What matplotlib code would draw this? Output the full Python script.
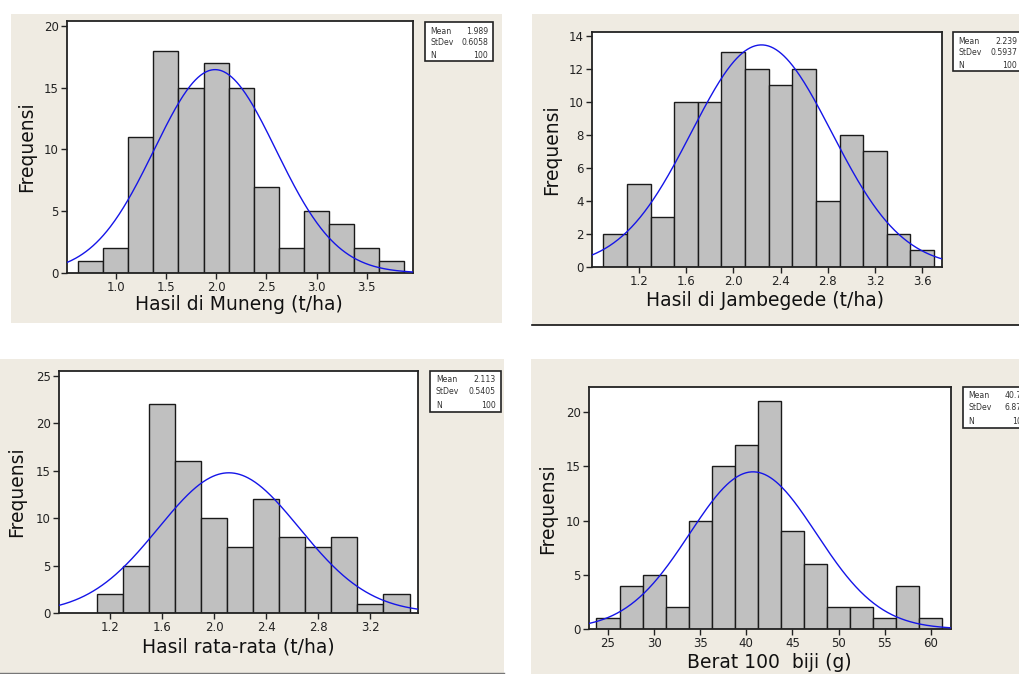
import matplotlib
matplotlib.use("Agg")
import matplotlib.pyplot as plt
from matplotlib.patches import Rectangle
import numpy as np

W, H = 1020, 674

# --- data ---
muneng_mids = [0.75, 1.00, 1.25, 1.50, 1.75, 2.00, 2.25, 2.50, 2.75, 3.00, 3.25, 3.50, 3.75]
muneng_counts = [1, 2, 11, 18, 15, 17, 15, 7, 2, 5, 4, 2, 1]
muneng_stats = ("1.989", "0.6058", "100")

jamb_mids = [1.0, 1.2, 1.4, 1.6, 1.8, 2.0, 2.2, 2.4, 2.6, 2.8, 3.0, 3.2, 3.4, 3.6]
jamb_counts = [2, 5, 3, 10, 10, 13, 12, 11, 12, 4, 8, 7, 2, 1]
jamb_stats = ("2.239", "0.5937", "100")

rata_mids = [1.2, 1.4, 1.6, 1.8, 2.0, 2.2, 2.4, 2.6, 2.8, 3.0, 3.2, 3.4]
rata_counts = [2, 5, 22, 16, 10, 7, 12, 8, 7, 8, 1, 2]
rata_stats = ("2.113", "0.5405", "100")

berat_mids = [25.0, 27.5, 30.0, 32.5, 35.0, 37.5, 40.0, 42.5, 45.0, 47.5, 50.0, 52.5, 55.0, 57.5, 60.0]
berat_counts = [1, 4, 5, 2, 10, 15, 17, 21, 9, 6, 2, 2, 1, 4, 1]
berat_stats = ("40.73", "6.877", "100")

BEIGE = "#EFEBE2"
BAR = "#C0C0C0"
EDGE = "#1a1a1a"
CURVE = "#1515E8"

fig = plt.figure(figsize=(W / 100, H / 100), dpi=100)
fig.patch.set_facecolor("white")


def rect_px(x0, y0, x1, y1, **kw):
    fig.add_artist(Rectangle((x0 / W, 1 - y1 / H), (x1 - x0) / W, (y1 - y0) / H,
                             transform=fig.transFigure, zorder=0, **kw))


def axes_px(x0, y0, x1, y1):
    return fig.add_axes([x0 / W, 1 - y1 / H, (x1 - x0) / W, (y1 - y0) / H])


def text_px(x, y, s, **kw):
    fig.text(x / W, 1 - y / H, s, **kw)


def histo(box, mids, counts, stats, xlim, ylim, xticks, yticks, fmt):
    ax = axes_px(*box)
    ax.set_facecolor("white")
    bw = mids[1] - mids[0]
    ax.bar(mids, counts, width=bw, color=BAR, edgecolor=EDGE, linewidth=1.0, zorder=2)
    mean, sd, n = float(stats[0]), float(stats[1]), float(stats[2])
    xs = np.linspace(xlim[0], xlim[1], 400)
    ys = n * bw * np.exp(-0.5 * ((xs - mean) / sd) ** 2) / (sd * np.sqrt(2 * np.pi))
    ax.plot(xs, ys, color=CURVE, lw=1.0, zorder=3)
    ax.set_xlim(*xlim)
    ax.set_ylim(*ylim)
    ax.set_xticks(xticks)
    ax.set_xticklabels([fmt.format(t) for t in xticks])
    ax.set_yticks(yticks)
    ax.tick_params(direction="out", length=4, width=1, labelsize=8.5, pad=2,
                   colors="#222222")
    for sp in ax.spines.values():
        sp.set_linewidth(1.3)
        sp.set_color("#222222")
    return ax


def statbox(x0, y0, x1, y1, stats, rows):
    rect_px(x0, y0, x1, y1, facecolor="white", edgecolor="#222222", linewidth=1.2)
    labels = ["Mean", "StDev", "N"]
    for lab, val, ry in zip(labels, stats, rows):
        text_px(x0 + 5.5, y0 + ry, lab, fontsize=5.6, va="center", ha="left", color="#333333")
        text_px(x1 - 5, y0 + ry, val, fontsize=5.6, va="center", ha="right", color="#333333")


lab_kw = dict(fontsize=13.5, color="#111111", ha="center", va="center")

# panel 1: Muneng
rect_px(11, 14, 502, 323, facecolor=BEIGE, edgecolor="none")
histo((67, 21, 413, 273), muneng_mids, muneng_counts, muneng_stats,
      (0.515, 3.96), (0, 20.4), [1.0, 1.5, 2.0, 2.5, 3.0, 3.5], [0, 5, 10, 15, 20], "{:.1f}")
statbox(425, 21.5, 493, 61, muneng_stats, [9.7, 21.4, 33.7])
text_px(239, 305, "Hasil di Muneng (t/ha)", **lab_kw)
text_px(27, 147, "Frequensi", rotation=90, **lab_kw)

# panel 2: Jambegede
rect_px(532, 14, 1020, 325, facecolor=BEIGE, edgecolor="none")
fig.add_artist(plt.Line2D([532 / W, 1], [1 - 325 / H] * 2, color="#111111", lw=1.2))
histo((592, 32, 942, 267), jamb_mids, jamb_counts, jamb_stats,
      (0.804, 3.767), (0, 14.22), [1.2, 1.6, 2.0, 2.4, 2.8, 3.2, 3.6], list(range(0, 15, 2)), "{:.1f}")
statbox(953, 32.3, 1022, 71.3, jamb_stats, [8.7, 20.4, 33.4])
text_px(765, 300, "Hasil di Jambegede (t/ha)", **lab_kw)
text_px(552, 150, "Frequensi", rotation=90, **lab_kw)

# panel 3: rata-rata
rect_px(0, 359, 504, 673, facecolor=BEIGE, edgecolor="none")
fig.add_artist(plt.Line2D([0, 504 / W], [1 - 673 / H] * 2, color="#777777", lw=1.0))
histo((59, 371, 418, 613), rata_mids, rata_counts, rata_stats,
      (0.809, 3.565), (0, 25.48), [1.2, 1.6, 2.0, 2.4, 2.8, 3.2], [0, 5, 10, 15, 20, 25], "{:.1f}")
statbox(430.5, 371, 501, 412.3, rata_stats, [8.7, 21, 35])
text_px(238, 647, "Hasil rata-rata (t/ha)", **lab_kw)
text_px(17, 492, "Frequensi", rotation=90, **lab_kw)

# panel 4: berat 100 biji
rect_px(531, 359, 1020, 674, facecolor=BEIGE, edgecolor="none")
histo((589, 387, 951, 629), berat_mids, berat_counts, berat_stats,
      (22.94, 62.2), (0, 22.33), [25, 30, 35, 40, 45, 50, 55, 60], [0, 5, 10, 15, 20], "{:d}")
statbox(963, 387, 1032, 428, berat_stats, [9, 21, 35])
text_px(769, 663, "Berat 100  biji (g)", **lab_kw)
text_px(548, 509, "Frequensi", rotation=90, **lab_kw)

fig.savefig("out.png", dpi=100, facecolor=fig.get_facecolor())
